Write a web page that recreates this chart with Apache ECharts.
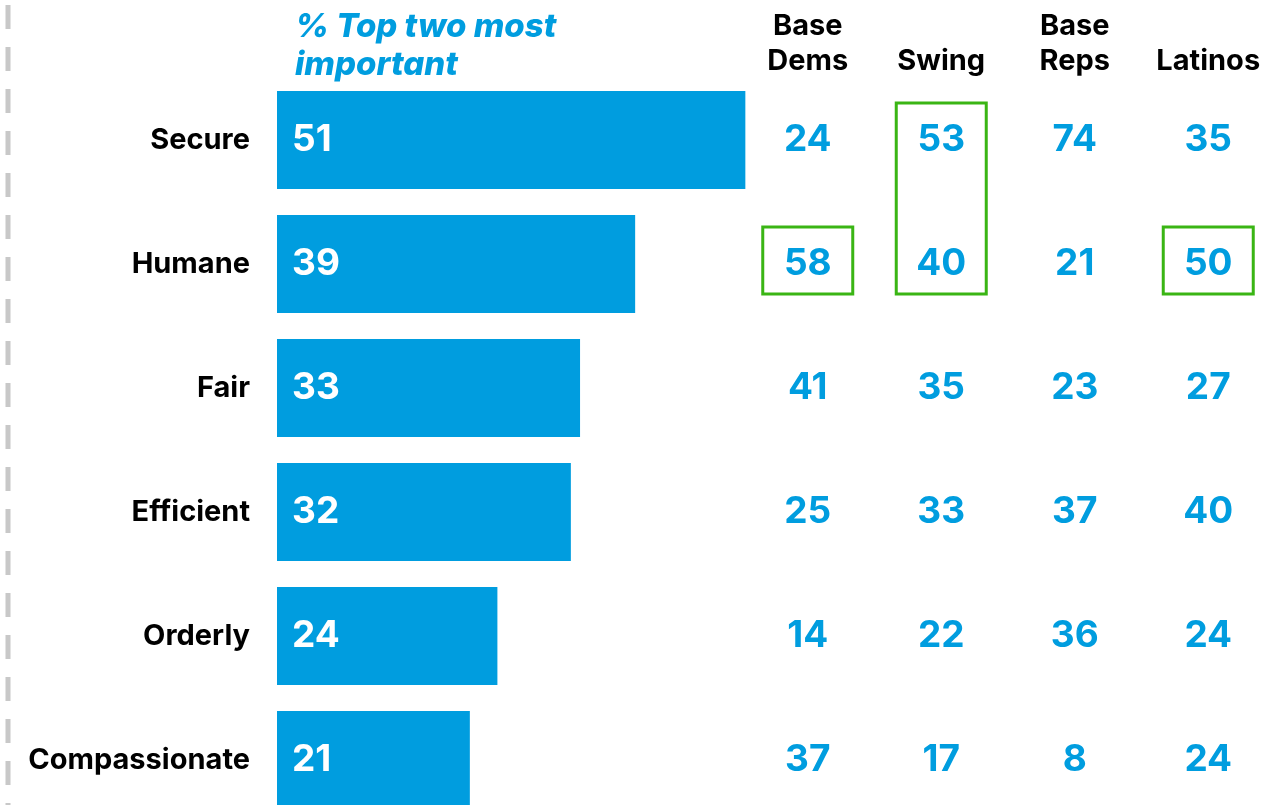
<!DOCTYPE html>
<html>
<head>
<meta charset="utf-8">
<style>
  html, body { margin: 0; padding: 0; background: #fff; }
  #chart { width: 1278px; height: 805px; }
</style>
<script src="https://cdn.jsdelivr.net/npm/echarts@6/dist/echarts.min.js"></script>
</head>
<body>
<div id="chart"></div>
<script>
// categories (top to bottom)
const categories = ["Secure", "Humane", "Fair", "Efficient", "Orderly", "Compassionate"];
// % top two most important (bars)
const topTwo = [51, 39, 33, 32, 24, 21];
// group columns
const groups = ["Base\nDems", "Swing", "Base\nReps", "Latinos"];
const baseDems = [24, 58, 41, 25, 14, 37];
const swing = [53, 40, 35, 33, 22, 17];
const baseReps = [74, 21, 23, 37, 36, 8];
const latinos = [35, 50, 27, 40, 24, 24];
// highlighted cells: [group index, first row, last row]
const highlights = [[0, 1, 1], [1, 0, 1], [3, 1, 1]];

const BLUE = "#009ddf";
const GREEN = "#3ab514";
const FONT = "Inter, 'Noto Sans', sans-serif";

const groupValues = [baseDems, swing, baseReps, latinos];

const chart = echarts.init(document.getElementById("chart"));

const option = {
  backgroundColor: "#fff",
  animation: false,
  title: {
    text: "% Top two most\nimportant",
    left: 290,
    top: 3,
    textStyle: {
      fontFamily: FONT,
      fontStyle: "italic",
      fontWeight: 800,
      fontSize: 33,
      lineHeight: 38,
      color: BLUE,
    },
  },
  graphic: [
    {
      type: "line",
      shape: { x1: 8, y1: 5, x2: 8, y2: 805 },
      style: { stroke: "#c8c8c8", lineWidth: 5, lineDash: [24, 18] },
    },
  ],
  grid: [
    { left: 277, top: 78, width: 551, height: 744, outerBoundsMode: "none" },
    { left: 741, top: 78, width: 534, height: 744, outerBoundsMode: "none" },
  ],
  xAxis: [
    { gridIndex: 0, type: "value", min: 0, max: 60, show: false },
    {
      gridIndex: 1,
      type: "category",
      position: "top",
      data: groups,
      axisLine: { show: false },
      axisTick: { show: false },
      axisLabel: {
        interval: 0,
        margin: -1,
        fontFamily: FONT,
        fontWeight: 700,
        fontSize: 29,
        lineHeight: 35,
        color: "#000",
        verticalAlign: "bottom",
      },
    },
  ],
  yAxis: [
    {
      gridIndex: 0,
      type: "category",
      inverse: true,
      data: categories,
      axisLine: { show: false },
      axisTick: { show: false },
      axisLabel: {
        interval: 0,
        margin: 27,
        fontFamily: FONT,
        fontWeight: 700,
        fontSize: 29,
        color: "#000",
      },
    },
    {
      gridIndex: 1,
      type: "category",
      inverse: true,
      data: categories,
      show: false,
    },
  ],
  series: [
    {
      type: "bar",
      xAxisIndex: 0,
      yAxisIndex: 0,
      data: topTwo,
      barWidth: 98,
      itemStyle: { color: BLUE },
      label: {
        show: true,
        position: "insideLeft",
        distance: 15,
        fontFamily: FONT,
        fontWeight: 700,
        fontSize: 37,
        color: "#fff",
      },
    },
    ...groupValues.map((vals, gi) => ({
      type: "scatter",
      xAxisIndex: 1,
      yAxisIndex: 1,
      symbolSize: 1,
      itemStyle: { color: "#fff", opacity: 0 },
      data: categories.map((c, i) => [groups[gi], c, vals[i]]),
      label: {
        show: true,
        position: "inside",
        formatter: (p) => p.value[2],
        fontFamily: FONT,
        fontWeight: 700,
        fontSize: 37,
        color: BLUE,
        textBorderWidth: 0,
        opacity: 1,
      },
    })),
    {
      type: "custom",
      xAxisIndex: 1,
      yAxisIndex: 1,
      silent: true,
      data: highlights.map((h) => [groups[h[0]], categories[h[1]], categories[h[2]]]),
      renderItem: function (params, api) {
        const top = api.coord([api.value(0), api.value(1)]);
        const bottom = api.coord([api.value(0), api.value(2)]);
        return {
          type: "rect",
          shape: {
            x: top[0] - 45,
            y: top[1] - 37,
            width: 90,
            height: bottom[1] - top[1] + 67,
          },
          style: { fill: "none", stroke: GREEN, lineWidth: 3 },
        };
      },
    },
  ],
};

chart.setOption(option);
window.addEventListener("resize", () => chart.resize());
</script>
</body>
</html>
